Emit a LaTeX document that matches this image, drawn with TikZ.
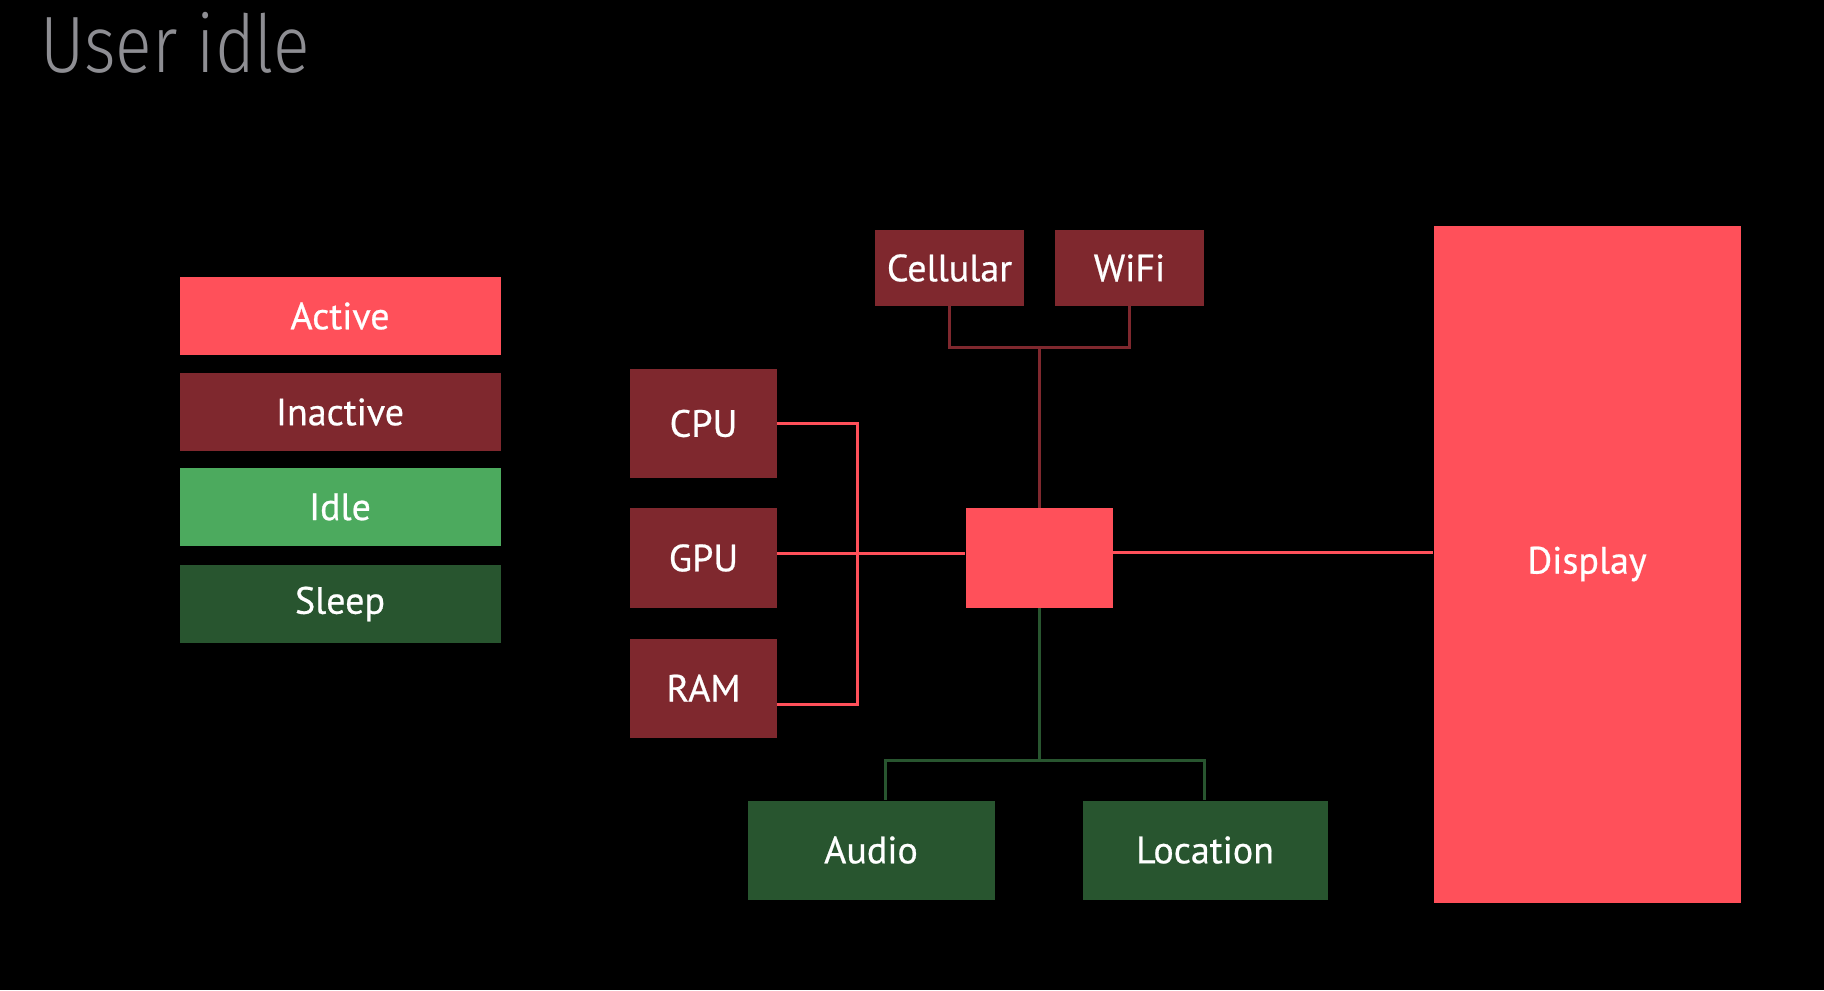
\documentclass[tikz,border=0pt]{standalone}
\usepackage{fontspec}
\setmainfont{PT Sans}
\newfontfamily\boxfont[FakeBold=0.6]{PT Sans}
\newfontfamily\titlefont[FakeStretch=0.85]{Fira Sans Light}
\usepackage{tikz}
\usetikzlibrary{positioning, calc}
\definecolor{activered}{RGB}{255, 80, 90}
\definecolor{inactivered}{RGB}{127, 40, 46}
\definecolor{idlegreen}{RGB}{76, 170, 94}
\definecolor{sleepgreen}{RGB}{40, 85, 47}
\definecolor{titlegray}{RGB}{142, 142, 147}

\tikzset{
    block/.style={inner sep=0pt, text=white, font=\boxfont\fontsize{19}{22}\selectfont},
    legendbox/.style={block, minimum width=160.5pt, minimum height=39pt},
    activelink/.style={draw=activered, line width=1.5pt},
    inactivelink/.style={draw=inactivered, line width=1.5pt},
    sleeplink/.style={draw=sleepgreen, line width=1.5pt}
}

\begin{document}
\begin{tikzpicture}[x=0.5pt, y=-0.5pt]
    \fill[black] (0,0) rectangle (1824,990);

    \node[anchor=base west, inner sep=0pt, text=titlegray, font=\titlefont\fontsize{40}{44}\selectfont] (title) at (40,73) {User idle};

    % legend
    \node[legendbox, fill=activered] (active) at (340,316) {Active};
    \node[legendbox, fill=inactivered] (inactive) at (340,412) {Inactive};
    \node[legendbox, fill=idlegreen] (idle) at (340,507) {Idle};
    \node[legendbox, fill=sleepgreen] (sleep) at (340,604) {Sleep};

    % radios
    \node[block, fill=inactivered, minimum width=74.5pt, minimum height=38pt] (cellular) at (949.5,268) {Cellular};
    \node[block, fill=inactivered, minimum width=74.5pt, minimum height=38pt] (wifi) at (1129.5,268) {WiFi};

    % processors
    \node[block, fill=inactivered, minimum width=73.5pt, minimum height=54.5pt] (cpu) at (703.5,423.5) {CPU};
    \node[block, fill=inactivered, minimum width=73.5pt, minimum height=50pt] (gpu) at (703.5,558) {GPU};
    \node[block, fill=inactivered, minimum width=73.5pt, minimum height=49.5pt] (ram) at (703.5,688) {RAM};

    \node[block, fill=activered, minimum width=73.5pt, minimum height=50pt] (hub) at (1039,558) {};
    \node[block, fill=activered, minimum width=153.5pt, minimum height=338.5pt] (display) at (1587,564) {Display};

    % sensors
    \node[block, fill=sleepgreen, minimum width=123.5pt, minimum height=49.5pt] (audio) at (871,850) {Audio};
    \node[block, fill=sleepgreen, minimum width=122.5pt, minimum height=49.5pt] (location) at (1205,850) {Location};

    % connectors
    \coordinate (netjoin) at (1039,347);
    \draw[inactivelink] (cellular.south) |- (netjoin) -| (wifi.south);
    \draw[inactivelink] (netjoin) -- (hub.north);

    \coordinate (cpubus) at (857,423.5);
    \coordinate (rambus) at (857,704);
    \draw[activelink] (cpu.east) -- (cpubus) -- (rambus) -- (ram.east |- rambus);
    \draw[activelink] ($(gpu.east)+(0,-5)$) -- ($(hub.west)+(0,-5)$);
    \draw[activelink] ($(hub.east)+(0,-6)$) -- ($(hub.east -| display.west)+(0,-6)$);

    \coordinate (sensorjoin) at (1039,760);
    \coordinate (audiodrop) at (885,760);
    \coordinate (locdrop) at (1204,760);
    \draw[sleeplink] (hub.south) -- (sensorjoin);
    \draw[sleeplink] (audiodrop |- audio.north) -- (audiodrop) -- (locdrop) -- (locdrop |- location.north);
\end{tikzpicture}
\end{document}
